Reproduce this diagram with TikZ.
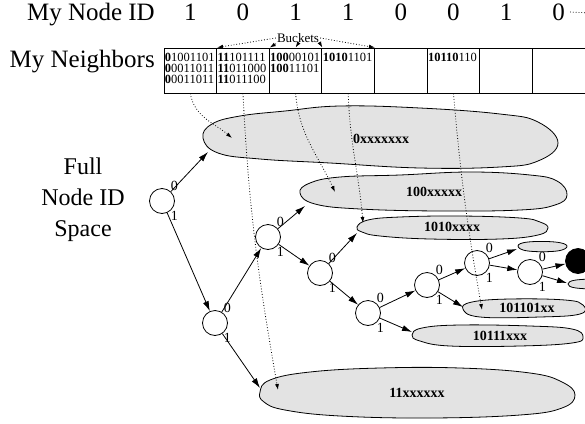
\documentclass[tikz,border=0pt]{standalone}
\usepackage{fontspec}
\setmainfont{Liberation Serif}
\usetikzlibrary{arrows.meta}
\tikzstyle{cell}=[rectangle,draw,line width=0.9pt,minimum width=52.6pt,minimum height=45pt,inner sep=0]
\tikzstyle{bits}=[anchor=north west,inner sep=1.2pt,align=left,font=\fontsize{12.5}{11}\selectfont]
\tikzstyle{big}=[inner sep=0,font=\fontsize{25}{30}\selectfont]
\tikzstyle{bitlabel}=[inner sep=0.3pt,font=\fontsize{14}{16}\selectfont]
\tikzstyle{tnode}=[circle,draw,line width=0.8pt,minimum size=25pt,inner sep=0]
\tikzstyle{branch}=[tnode,label={[bitlabel]50:0},label={[bitlabel]-50:1}]
\tikzstyle{blob}=[draw,line width=0.8pt,fill=black!11]
\tikzstyle{blobtext}=[inner sep=0,font=\fontsize{14}{16}\selectfont\bfseries]
\tikzstyle{arrow}=[line width=0.8pt,-{Latex[length=10pt,width=6pt]}]
\tikzstyle{link}=[dotted,line width=0.8pt,-{Latex[length=6pt,width=4pt]}]

\begin{document}
\begin{tikzpicture}[x=1pt,y=1pt]
\useasboundingbox (0,0) rectangle (585,-423);
\clip (0,0) rectangle (585,-423);

% my id and the routing table
\node[big,anchor=base east] (myid) at (155,-20) {My Node ID};
\node[big,anchor=base east] (mynb) at (155,-67) {My Neighbors};
\foreach \d [count=\i] in {1,0,1,1,0,0,1,0}{
	\node[big,anchor=base] (d\i) at ({164+52.625*(\i-0.5)},-20) {\d};
	\node[cell] (c\i) at ({164+52.625*(\i-0.5)},-70.5) {};}
\coordinate (more) at (592,-13);
\draw[dotted,line width=0.8pt,shorten <=5pt] (d8.east) -- (more);

\node[bits] (b1) at ([yshift=-4pt]c1.north west) {\textbf{0}1001101\\\textbf{0}0011011\\\textbf{0}0011011};
\node[bits] (b2) at ([yshift=-4pt]c2.north west) {\textbf{11}101111\\\textbf{11}011000\\\textbf{11}011100};
\node[bits] (b3) at ([yshift=-4pt]c3.north west) {\textbf{100}00101\\\textbf{100}11101};
\node[bits] (b4) at ([yshift=-4pt]c4.north west) {\textbf{1010}1101};
\node[bits] (b6) at ([yshift=-4pt]c6.north west) {\textbf{10110}110};

\node[inner sep=1pt,font=\fontsize{13}{15}\selectfont] (bk) at (298,-38) {Buckets};
\draw[link] (bk.west) -- (c1.north east);
\draw[link] (bk.south west) -- (c2.north east);
\draw[link] (bk.south) -- (c3.north);
\draw[link] (bk.south east) -- (c3.north east);
\draw[link] (bk.east) -- (c4.north east);

\node[align=center,font=\fontsize{24}{31}\selectfont] (space) at (83,-200) {Full\\Node ID\\Space};

% subtrees
\draw[blob] plot[smooth cycle,tension=0.7] coordinates {(203,-138) (212,-124) (240,-116) (285,-111) (340,-106) (420,-108) (500,-114) (538,-122) (558,-143) (538,-161) (500,-167) (420,-168) (330,-163) (260,-159) (218,-153)};
\draw[blob] plot[smooth cycle,tension=0.7] coordinates {(300,-193) (310,-183) (340,-177) (400,-175) (470,-172) (530,-175) (557,-181) (567,-195) (555,-205) (520,-210) (440,-211) (360,-209) (315,-204)};
\draw[blob] plot[smooth cycle,tension=0.7] coordinates {(357,-227) (368,-220) (400,-217) (460,-216) (520,-218) (540,-222) (548,-228) (538,-235) (500,-239) (430,-239) (380,-236) (362,-232)};
\draw[blob] plot[smooth cycle,tension=0.7] coordinates {(518,-246) (528,-242) (555,-242) (567,-246) (557,-251) (528,-251)};
\draw[blob] plot[smooth cycle,tension=0.7] coordinates {(568,-284) (576,-280) (600,-280) (600,-288) (576,-288)};
\draw[blob] plot[smooth cycle,tension=0.7] coordinates {(463,-309) (472,-302) (510,-299) (565,-300) (583,-305) (580,-314) (540,-317) (480,-317)};
\draw[blob] plot[smooth cycle,tension=0.7] coordinates {(412,-335) (422,-328) (460,-325) (530,-326) (572,-329) (583,-337) (572,-343) (520,-346) (450,-346) (420,-341)};
\draw[blob] plot[smooth cycle,tension=0.7] coordinates {(260,-392) (270,-380) (310,-372) (380,-368) (460,-368) (530,-373) (562,-382) (575,-395) (562,-408) (520,-415) (430,-418) (340,-416) (285,-410) (264,-402)};

\node[blobtext] (lA) at (381,-139) {0xxxxxxx};
\node[blobtext] (lB) at (434,-192) {100xxxxx};
\node[blobtext] (lC) at (452,-227) {1010xxxx};
\node[blobtext] (lF) at (527,-308) {101101xx};
\node[blobtext] (lG) at (500,-336) {10111xxx};
\node[blobtext] (lH) at (417,-393) {11xxxxxx};

\coordinate (aA) at (208,-152);
\coordinate (aB) at (305,-206);
\coordinate (aC) at (357,-233);
\coordinate (aD) at (517,-249);
\coordinate (aE) at (567,-283);
\coordinate (aF) at (463,-307);
\coordinate (aG) at (412,-332);
\coordinate (aH) at (260,-388);

% the path down to my own id
\node[branch] (r) at (162,-201) {};
\node[branch] (n1) at (215,-323) {};
\node[branch] (n10) at (268,-237) {};
\node[branch] (n101) at (320,-273) {};
\node[branch] (n1011) at (368,-313) {};
\node[branch] (n10110) at (427,-285) {};
\node[branch] (n101100) at (477,-263) {};
\node[branch] (n1011001) at (530,-272) {};
\node[tnode,fill=black] (me) at (578,-261) {};

\foreach \a/\b in {r/aA,r/n1,n1/n10,n1/aH,n10/aB,n10/n101,n101/aC,n101/n1011,n1011/n10110,n1011/aG,n10110/n101100,n10110/aF,n101100/aD,n101100/n1011001,n1011001/me,n1011001/aE}
	\draw[arrow] (\a) -- (\b);

% buckets point into subtrees
\coordinate (kA) at (232,-138);
\coordinate (kB) at (335,-192);
\coordinate (kC) at (363,-223);
\coordinate (kF) at (482,-310);
\coordinate (kH) at (278,-390);
\draw[link] (c1.south) to[out=-80,in=140] (kA);
\draw[link] (c2.south) to[out=-87,in=100] (kH);
\draw[link] (c3.south) to[out=-85,in=115] (kB);
\draw[link] (c4.south) to[out=-88,in=95] (kC);
\draw[link] (c6.south) to[out=-85,in=100] (kF);
\end{tikzpicture}
\end{document}
